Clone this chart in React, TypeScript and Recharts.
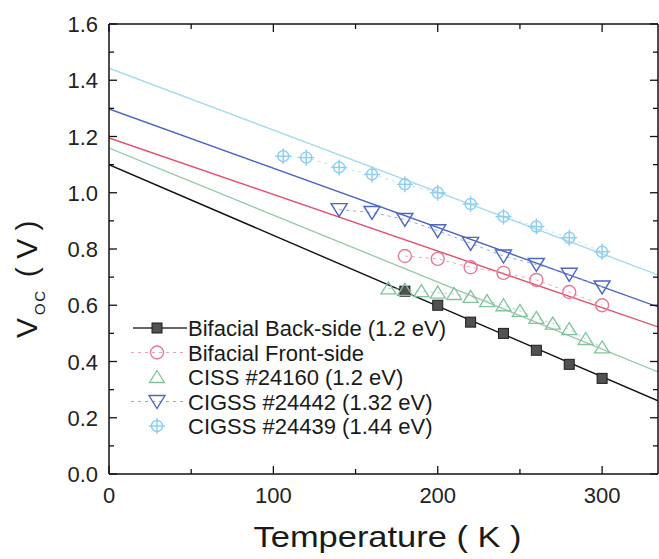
import React from 'react';
import { LineChart, Line, XAxis, YAxis, Legend } from 'recharts';

const FONT = 'Arial, "Liberation Sans", Helvetica, sans-serif';

// axis ticks
const xTicks = [0, 50, 100, 150, 200, 250, 300];
const xLabelTicks = [0, 100, 200, 300];
const yTicks = [0, 0.1, 0.2, 0.3, 0.4, 0.5, 0.6, 0.7, 0.8, 0.9, 1.0, 1.1, 1.2, 1.3, 1.4, 1.5, 1.6];
const yLabelTicks = [0, 0.2, 0.4, 0.6, 0.8, 1.0, 1.2, 1.4, 1.6];

// measured Voc (V) vs temperature (K)
const backT = [180, 200, 220, 240, 260, 280, 300];
const backV = [0.65, 0.6, 0.54, 0.5, 0.44, 0.39, 0.34];
const frontT = [180, 200, 220, 240, 260, 280, 300];
const frontV = [0.775, 0.765, 0.735, 0.715, 0.69, 0.647, 0.6];
const cissT = [170, 180, 190, 200, 210, 220, 230, 240, 250, 260, 270, 280, 290, 300];
const cissV = [0.66, 0.655, 0.65, 0.645, 0.64, 0.63, 0.615, 0.6, 0.58, 0.555, 0.535, 0.515, 0.48, 0.45];
const cigss42T = [140, 160, 180, 200, 220, 240, 260, 280, 300];
const cigss42V = [0.94, 0.93, 0.905, 0.865, 0.82, 0.775, 0.745, 0.71, 0.665];
const cigss39T = [106, 120, 140, 160, 180, 200, 220, 240, 260, 280, 300];
const cigss39V = [1.13, 1.125, 1.09, 1.065, 1.03, 1.0, 0.96, 0.915, 0.88, 0.84, 0.79];

// linear fits, value at the two ends of the temperature axis
const fitT = [0, 334];
const backFit = [1.1, 0.26];
const frontFit = [1.195, 0.523];
const cissFit = [1.159, 0.363];
const cigss42Fit = [1.298, 0.594];
const cigss39Fit = [1.443, 0.708];

const toPoints = (ts: number[], vs: number[]) => ts.map((t, i) => ({ T: t, V: vs[i] }));

const series = [
  { name: 'Bifacial Back-side (1.2 eV)', T: backT, V: backV, fit: backFit, marker: 'square', color: '#2a2a2a', fitColor: '#111111', link: 'none', legendLine: 'solid' },
  { name: 'Bifacial Front-side', T: frontT, V: frontV, fit: frontFit, marker: 'circle', color: '#e27a98', fitColor: '#e0506e', link: '#e9a3b6', legendLine: 'dash' },
  { name: 'CISS #24160 (1.2 eV)', T: cissT, V: cissV, fit: cissFit, marker: 'up', color: '#82c29e', fitColor: '#9cc8ac', link: '#b4d8c2', legendLine: 'none' },
  { name: 'CIGSS #24442 (1.32 eV)', T: cigss42T, V: cigss42V, fit: cigss42Fit, marker: 'down', color: '#4f66c0', fitColor: '#4c62c2', link: '#98a6d6', legendLine: 'dash' },
  { name: 'CIGSS #24439 (1.44 eV)', T: cigss39T, V: cigss39V, fit: cigss39Fit, marker: 'cross', color: '#8ccdf0', fitColor: '#a6d9ea', link: '#bfe4f2', legendLine: 'none' },
];

const drawMarker = (kind: string, cx: number, cy: number, color: string, key?: any) => {
  if (cx == null || cy == null) return <g key={key} />;
  switch (kind) {
    case 'square':
      return <rect key={key} x={cx - 5} y={cy - 5} width={10} height={10} fill="#515151" stroke="#1c1c1c" strokeWidth={1} />;
    case 'circle':
      return <circle key={key} cx={cx} cy={cy} r={6.5} fill="none" stroke={color} strokeWidth={1.4} />;
    case 'up':
      return <path key={key} d={`M${cx},${cy - 6.5}L${cx + 7.5},${cy + 5.5}L${cx - 7.5},${cy + 5.5}Z`} fill="none" stroke={color} strokeWidth={1.3} />;
    case 'down':
      return <path key={key} d={`M${cx - 8},${cy - 6}L${cx + 8},${cy - 6}L${cx},${cy + 7}Z`} fill="none" stroke={color} strokeWidth={1.4} />;
    default:
      return (
        <g key={key} stroke={color} strokeWidth={1.4} fill="none">
          <circle cx={cx} cy={cy} r={5.5} />
          <line x1={cx - 8} y1={cy} x2={cx + 8} y2={cy} />
          <line x1={cx} y1={cy - 8} x2={cx} y2={cy + 8} />
        </g>
      );
  }
};

const isMajor = (v: number, list: number[]) => list.some((m) => Math.abs(m - v) < 1e-6);

const BottomTick = (p: any) => {
  const major = isMajor(p.payload.value, xLabelTicks);
  return (
    <g>
      <line x1={p.x} y1={p.y} x2={p.x} y2={p.y - (major ? 8 : 5)} stroke="#111" strokeWidth={1.3} />
      {major && (
        <text x={p.x} y={p.y + 29} textAnchor="middle" fontSize={22} fontFamily={FONT} fill="#222">
          {p.payload.value}
        </text>
      )}
    </g>
  );
};

const TopTick = (p: any) => {
  const major = isMajor(p.payload.value, xLabelTicks);
  return <line x1={p.x} y1={p.y} x2={p.x} y2={p.y + (major ? 8 : 5)} stroke="#111" strokeWidth={1.3} />;
};

const LeftTick = (p: any) => {
  const major = isMajor(p.payload.value, yLabelTicks);
  return (
    <g>
      <line x1={p.x} y1={p.y} x2={p.x + (major ? 8 : 5)} y2={p.y} stroke="#111" strokeWidth={1.3} />
      {major && (
        <text x={p.x - 11} y={p.y + 8} textAnchor="end" fontSize={22} fontFamily={FONT} fill="#222">
          {Number(p.payload.value).toFixed(1)}
        </text>
      )}
    </g>
  );
};

const RightTick = (p: any) => {
  const major = isMajor(p.payload.value, yLabelTicks);
  return <line x1={p.x} y1={p.y} x2={p.x - (major ? 8 : 5)} y2={p.y} stroke="#111" strokeWidth={1.3} />;
};

const XTitle = (p: any) => {
  const vb = p.viewBox;
  return (
    <text x={vb.x + vb.width / 2 + 4} y={vb.y + 73} textAnchor="middle" fontSize={30} fontFamily={FONT} fill="#1a1a1a" textLength={268} lengthAdjust="spacingAndGlyphs">
      Temperature ( K )
    </text>
  );
};

const YTitle = (p: any) => {
  const vb = p.viewBox;
  const x = vb.x - 12;
  const y = vb.y + 314;
  return (
    <text x={x} y={y} transform={`rotate(-90 ${x} ${y})`} fontSize={30} fontFamily={FONT} fill="#1a1a1a">
      <tspan>V</tspan>
      <tspan fontSize={15} dy={8} dx={3} letterSpacing={1.5}>OC</tspan>
      <tspan dy={-8} dx={4}> ( V )</tspan>
    </text>
  );
};

const LegendBox = () => (
  <svg width={330} height={140} style={{ overflow: 'visible' }}>
    {series.map((s, i) => {
      const cy = 16 + i * 24.5;
      return (
        <g key={s.name}>
          {s.legendLine === 'solid' && <line x1={8} y1={cy} x2={62} y2={cy} stroke="#333" strokeWidth={1.3} />}
          {s.legendLine === 'dash' && (
            <line x1={6} y1={cy} x2={58} y2={cy} stroke={s.link} strokeWidth={1.2} strokeDasharray="3 4" />
          )}
          {drawMarker(s.marker, 32, cy, s.color)}
          <text x={63} y={cy + 8} fontSize={22} fontFamily={FONT} fill="#1a1a1a">
            {s.name}
          </text>
        </g>
      );
    })}
  </svg>
);

export default function App() {
  return (
    <div style={{ position: 'absolute', left: 0, top: 0, background: '#fff' }}>
      <LineChart width={659} height={559} margin={{ top: 23, right: 0, bottom: 0, left: 49 }}>
        <XAxis
          xAxisId="b"
          type="number"
          dataKey="T"
          domain={[0, 334]}
          allowDataOverflow
          ticks={xTicks}
          interval={0}
          height={85}
          tickSize={0}
          tickMargin={0}
          tickLine={false}
          axisLine={{ stroke: '#111', strokeWidth: 1.5 }}
          tick={(p: any) => <BottomTick {...p} />}
          label={(p: any) => <XTitle {...p} />}
        />
        <XAxis
          xAxisId="t"
          orientation="top"
          type="number"
          dataKey="T"
          domain={[0, 334]}
          allowDataOverflow
          ticks={xTicks}
          interval={0}
          height={1}
          tickSize={0}
          tickMargin={0}
          tickLine={false}
          axisLine={{ stroke: '#111', strokeWidth: 1.5 }}
          tick={(p: any) => <TopTick {...p} />}
        />
        <YAxis
          yAxisId="l"
          type="number"
          dataKey="V"
          domain={[0, 1.6]}
          allowDataOverflow
          ticks={yTicks}
          interval={0}
          width={60}
          tickSize={0}
          tickMargin={0}
          tickLine={false}
          axisLine={{ stroke: '#111', strokeWidth: 1.5 }}
          tick={(p: any) => <LeftTick {...p} />}
          label={(p: any) => <YTitle {...p} />}
        />
        <YAxis
          yAxisId="r"
          orientation="right"
          type="number"
          dataKey="V"
          domain={[0, 1.6]}
          allowDataOverflow
          ticks={yTicks}
          interval={0}
          width={1}
          tickSize={0}
          tickMargin={0}
          tickLine={false}
          axisLine={{ stroke: '#111', strokeWidth: 1.5 }}
          tick={(p: any) => <RightTick {...p} />}
        />
        {series.map((s) => (
          <Line
            key={`fit-${s.name}`}
            xAxisId="b"
            yAxisId="l"
            data={toPoints(fitT, s.fit)}
            dataKey="V"
            type="linear"
            stroke={s.fitColor}
            strokeWidth={1.4}
            dot={false}
            activeDot={false}
            legendType="none"
            isAnimationActive={false}
          />
        ))}
        {series.map((s) => (
          <Line
            key={`data-${s.name}`}
            xAxisId="b"
            yAxisId="l"
            data={toPoints(s.T, s.V)}
            dataKey="V"
            name={s.name}
            type="linear"
            stroke={s.link}
            strokeWidth={1}
            strokeDasharray="3 4"
            dot={(p: any) => drawMarker(s.marker, p.cx, p.cy, s.color, `${s.name}-${p.index}`)}
            activeDot={false}
            isAnimationActive={false}
          />
        ))}
        <Legend
          layout="horizontal"
          verticalAlign="middle"
          align="center"
          wrapperStyle={{ position: 'absolute', left: 125, top: 312, width: 330, height: 140 }}
          content={() => <LegendBox />}
        />
      </LineChart>
    </div>
  );
}
